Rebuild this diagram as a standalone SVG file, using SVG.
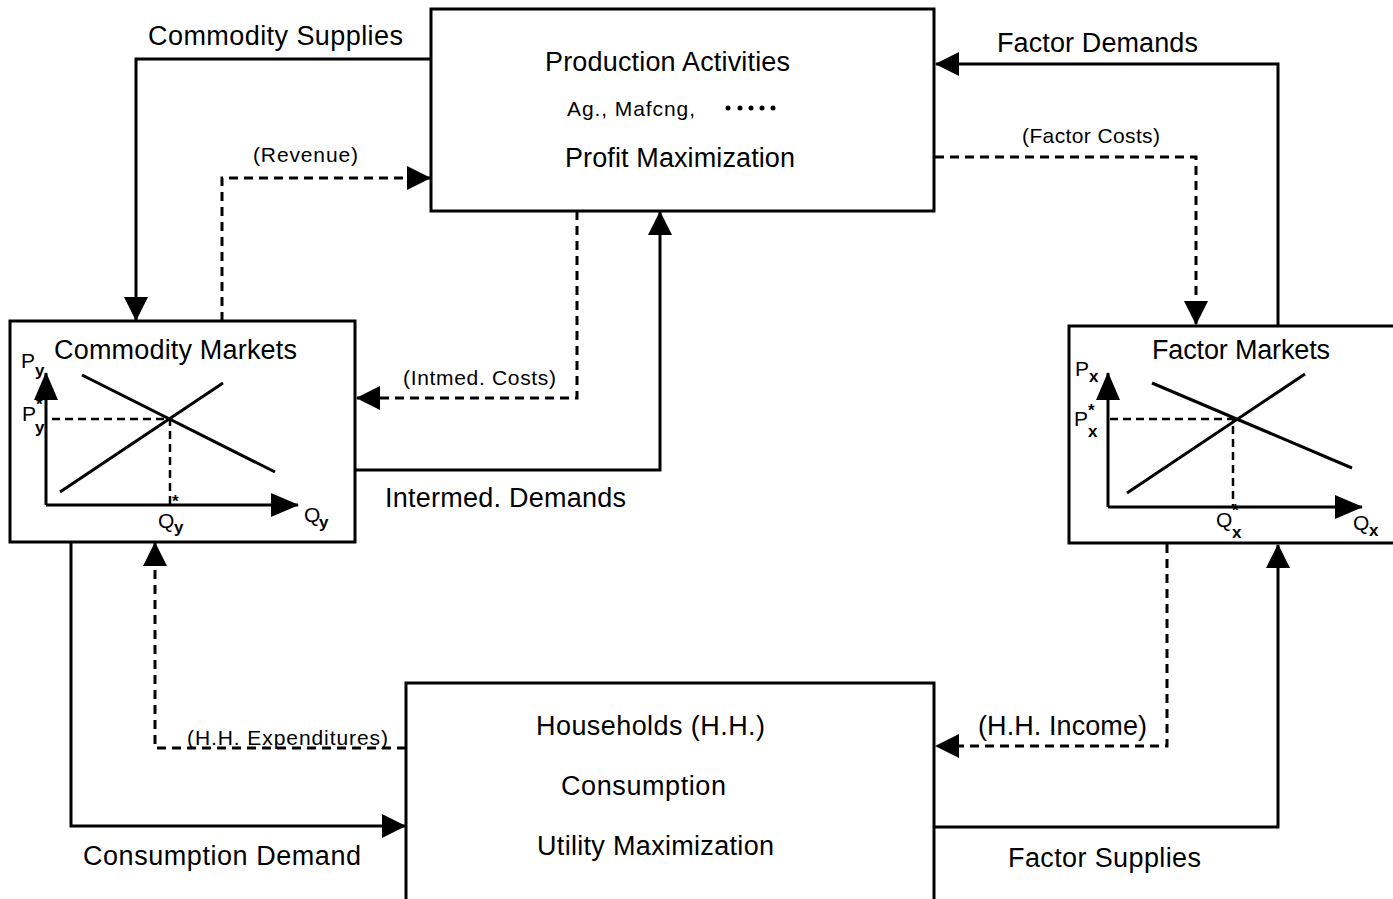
<svg xmlns="http://www.w3.org/2000/svg" width="1393" height="899" viewBox="0 0 1393 899">
<style>
.box{fill:#fff;stroke:#000;stroke-width:3}
.ln{fill:none;stroke:#000;stroke-width:3}
.dl{fill:none;stroke:#000;stroke-width:3;stroke-dasharray:9 6}
.dg{fill:none;stroke:#000;stroke-width:2.5;stroke-dasharray:8 5}
.t{font-family:"Liberation Sans",Arial,sans-serif;font-size:27px;fill:#000}
.s{font-family:"Liberation Sans",Arial,sans-serif;font-size:21px;fill:#000}
.g{font-family:"Liberation Sans",Arial,sans-serif;font-size:21px;fill:#000}
.sub{font-size:17px;font-weight:bold}
</style>
<defs>
<marker id="ah" viewBox="0 0 24 24" markerWidth="24" markerHeight="24" refX="23" refY="12" orient="auto" markerUnits="userSpaceOnUse">
<path d="M0,0 L24,12 L0,24 z" fill="#000"/>
</marker>
<marker id="ax" viewBox="0 0 28 24" markerWidth="28" markerHeight="24" refX="27" refY="12" orient="auto" markerUnits="userSpaceOnUse">
<path d="M0,0 L28,12 L0,24 z" fill="#000"/>
</marker>
</defs>
<rect width="1393" height="899" fill="#fff"/>

<g id="connectors">
<path class="ln" d="M431,59 H136 V320" marker-end="url(#ah)"/>
<path class="dl" d="M222,321 V178 H430" marker-end="url(#ah)"/>
<path class="ln" d="M1278,325 V64 H936" marker-end="url(#ah)"/>
<path class="dl" d="M935,157 H1196 V324" marker-end="url(#ah)"/>
<path class="dl" d="M577,211 V398 H357" marker-end="url(#ah)"/>
<path class="ln" d="M356,470 H660 V212" marker-end="url(#ah)"/>
<path class="dl" d="M406,748 H155 V543" marker-end="url(#ah)"/>
<path class="ln" d="M71,542 V826 H405" marker-end="url(#ah)"/>
<path class="dl" d="M1167,544 V746 H936" marker-end="url(#ah)"/>
<path class="ln" d="M935,827 H1278 V545" marker-end="url(#ah)"/>
<text class="t" x="148" y="45" textLength="255">Commodity Supplies</text>
<text class="s" x="253" y="162" textLength="105">(Revenue)</text>
<text class="t" x="997" y="52" textLength="201">Factor Demands</text>
<text class="s" x="1022" y="143" textLength="138">(Factor Costs)</text>
<text class="s" x="403" y="385" textLength="153">(Intmed. Costs)</text>
<text class="t" x="385" y="507" textLength="241">Intermed. Demands</text>
<text class="s" x="187" y="745" textLength="201">(H.H. Expenditures)</text>
<text class="t" x="83" y="865" textLength="278">Consumption Demand</text>
<text class="t" x="978" y="735" textLength="169">(H.H. Income)</text>
<text class="t" x="1008" y="867" textLength="193">Factor Supplies</text>
</g>

<g id="production">
<rect class="box" x="431" y="9" width="503" height="202"/>
<text class="t" x="545" y="71" textLength="245">Production Activities</text>
<text class="s" x="567" y="116" textLength="128">Ag., Mafcng,</text>
<g fill="#000"><circle cx="728" cy="108" r="2.5"/><circle cx="740" cy="108" r="2.5"/><circle cx="751" cy="108" r="2.5"/><circle cx="762" cy="108" r="2.5"/><circle cx="773" cy="108" r="2.5"/></g>
<text class="t" x="565" y="167" textLength="230">Profit Maximization</text>
</g>

<g id="commodity-markets">
<rect class="box" x="10" y="321" width="345" height="221"/>
<text class="t" x="54" y="359" textLength="243">Commodity Markets</text>
<path class="ln" d="M46,505 V373" marker-end="url(#ax)"/>
<path class="ln" d="M46,505 H298" marker-end="url(#ax)"/>
<path class="ln" d="M82,375 L275,472"/>
<path class="ln" d="M60,492 L223,383"/>
<path class="dg" d="M52,419 H170 V505"/>
<text class="g" x="21" y="368">P<tspan class="sub" x="35" y="376">y</tspan></text>
<text class="g" x="22" y="421">P</text>
<text class="g sub" x="36" y="410">*</text>
<text class="g sub" x="35" y="433">y</text>
<text class="g" x="158" y="528">Q<tspan class="sub" x="174" y="533">y</tspan></text>
<text class="g sub" x="172" y="507">*</text>
<text class="g" x="304" y="522">Q<tspan class="sub" x="319" y="528">y</tspan></text>
</g>

<g id="factor-markets">
<rect class="box" x="1069" y="326" width="330" height="217"/>
<text class="t" x="1152" y="359" textLength="178">Factor Markets</text>
<path class="ln" d="M1108,507 V373" marker-end="url(#ax)"/>
<path class="ln" d="M1108,507 H1362" marker-end="url(#ax)"/>
<path class="ln" d="M1152,383 L1352,468"/>
<path class="ln" d="M1127,493 L1305,374"/>
<path class="dg" d="M1110,419 H1233 V507"/>
<text class="g" x="1075" y="376">P<tspan class="sub" x="1089" y="382">x</tspan></text>
<text class="g" x="1074" y="426">P</text>
<text class="g sub" x="1088" y="416">*</text>
<text class="g sub" x="1088" y="437">x</text>
<text class="g" x="1216" y="527">Q</text>
<text class="g sub" x="1232" y="516">*</text>
<text class="g sub" x="1232" y="538">x</text>
<text class="g" x="1353" y="530">Q<tspan class="sub" x="1369" y="536">x</tspan></text>
</g>

<g id="households">
<rect class="box" x="406" y="683" width="528" height="230"/>
<text class="t" x="536" y="735" textLength="229">Households (H.H.)</text>
<text class="t" x="561" y="795" textLength="165">Consumption</text>
<text class="t" x="537" y="855" textLength="237">Utility Maximization</text>
</g>
</svg>
